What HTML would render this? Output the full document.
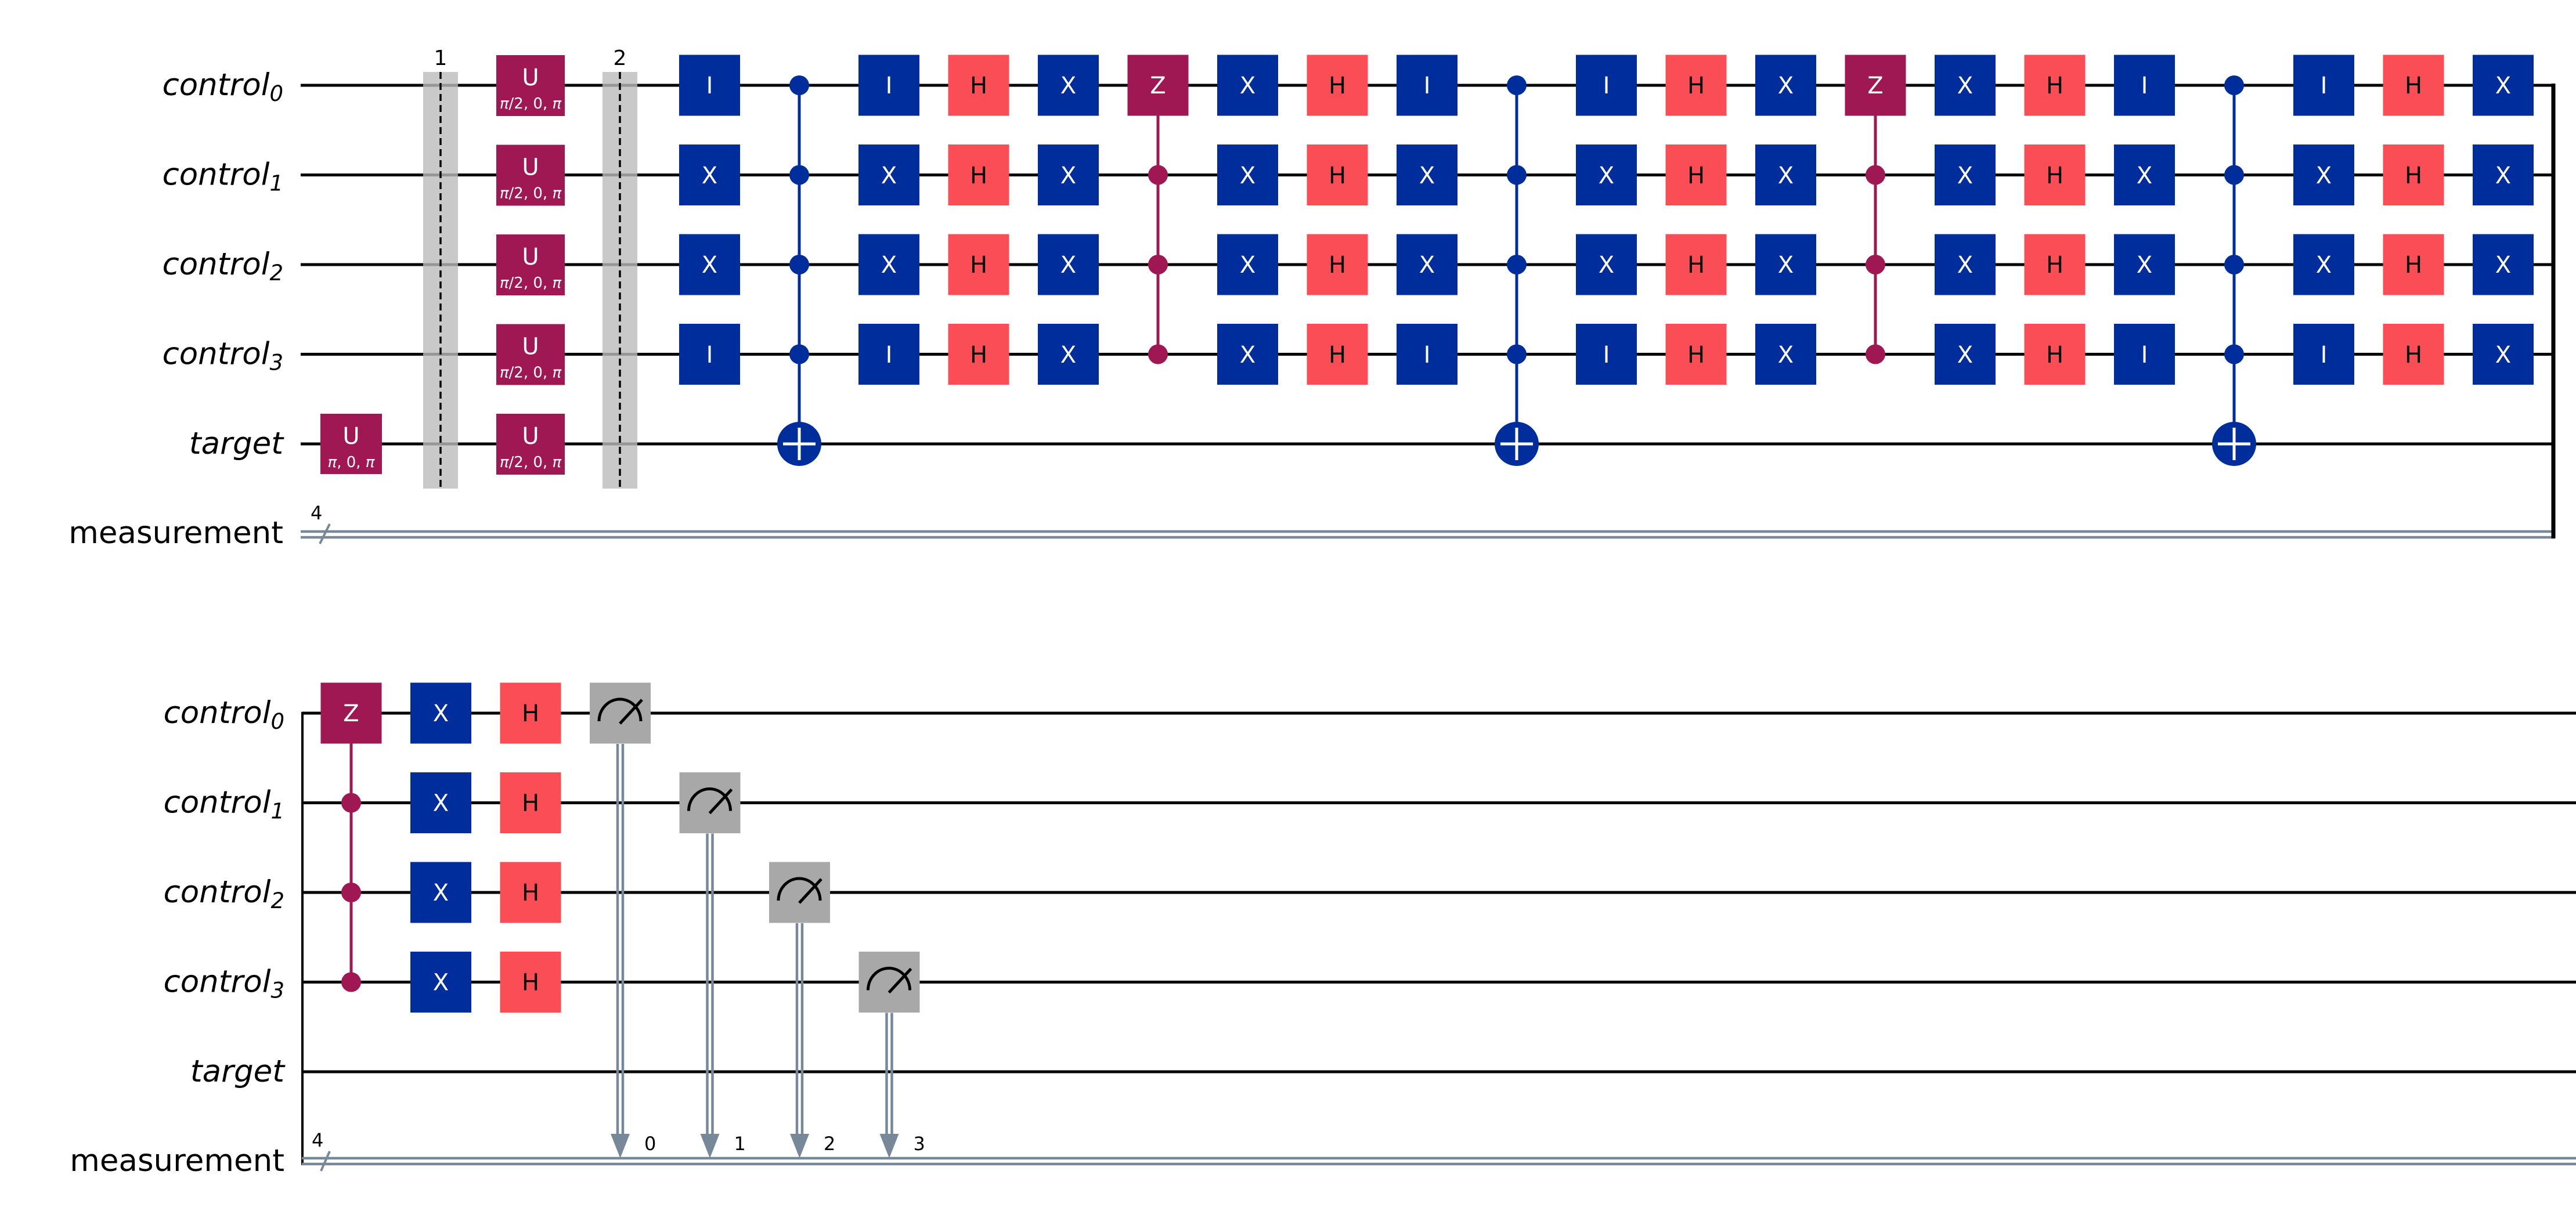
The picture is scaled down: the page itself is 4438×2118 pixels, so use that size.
<!DOCTYPE html>
<html><head><meta charset="utf-8"><style>
html,body{margin:0;padding:0;background:#fff}
svg{display:block}
.lbl{font-family:"DejaVu Sans","Liberation Sans",sans-serif;font-size:53px;font-style:italic;text-anchor:end;fill:#000}
.lbn{font-family:"DejaVu Sans","Liberation Sans",sans-serif;font-size:53px;text-anchor:end;fill:#000}
.g{font-family:"DejaVu Sans","Liberation Sans",sans-serif;font-size:40px;text-anchor:middle;fill:#fff}
.gk{font-family:"DejaVu Sans","Liberation Sans",sans-serif;font-size:40px;text-anchor:middle;fill:#000}
.p{font-family:"DejaVu Sans","Liberation Sans",sans-serif;font-size:26px;text-anchor:middle;fill:#fff}
.sm{font-family:"DejaVu Sans","Liberation Sans",sans-serif;font-size:36px;fill:#000}
.b{fill:#002D9C}.h{fill:#FA4D56}.m{fill:#9F1853}.gr{fill:#A8A8A8}
.w{stroke:#000;stroke-width:5}
.c{stroke:#778899;stroke-width:4.5}
</style></head><body>
<svg width="4438" height="2118" viewBox="0 0 4438 2118" xmlns="http://www.w3.org/2000/svg">
<!-- ===== TOP ===== -->
<g class="w">
<line x1="518" y1="147" x2="4399" y2="147"/>
<line x1="518" y1="301.5" x2="4399" y2="301.5"/>
<line x1="518" y1="456" x2="4399" y2="456"/>
<line x1="518" y1="610.5" x2="4399" y2="610.5"/>
<line x1="518" y1="765" x2="4399" y2="765"/>
</g>
<line class="c" x1="518" y1="916" x2="4399" y2="916"/>
<line class="c" x1="518" y1="926" x2="4399" y2="926"/>
<line x1="4399" y1="144" x2="4399" y2="928" stroke="#000" stroke-width="7"/>
<line x1="551" y1="937" x2="568" y2="903" stroke="#778899" stroke-width="4"/>
<text class="sm" x="535" y="895" style="font-size:32px">4</text>

<text class="lbl" x="488" y="164">control<tspan style="font-size:37px" dy="10">0</tspan></text>
<text class="lbl" x="488" y="318.5">control<tspan style="font-size:37px" dy="10">1</tspan></text>
<text class="lbl" x="488" y="473">control<tspan style="font-size:37px" dy="10">2</tspan></text>
<text class="lbl" x="488" y="627.5">control<tspan style="font-size:37px" dy="10">3</tspan></text>
<text class="lbl" x="488" y="782">target</text>
<text class="lbn" x="488" y="936">measurement</text>

<!-- U target -->
<rect class="m" x="552" y="713" width="106" height="104"/>
<text class="g" x="605" y="765">U</text>
<text class="p" x="605" y="805"><tspan font-style="italic">π</tspan>, 0, <tspan font-style="italic">π</tspan></text>

<!-- barriers -->
<rect x="729" y="124" width="60" height="718" fill="#bbb" opacity="0.8"/>
<line x1="759" y1="124" x2="759" y2="842" stroke="#000" stroke-width="3.5" stroke-dasharray="12,7"/>
<text class="sm" x="759" y="112" text-anchor="middle">1</text>
<rect x="1038" y="124" width="60" height="718" fill="#bbb" opacity="0.8"/>
<line x1="1068" y1="124" x2="1068" y2="842" stroke="#000" stroke-width="3.5" stroke-dasharray="12,7"/>
<text class="sm" x="1068" y="112" text-anchor="middle">2</text>

<!-- U column -->
<g>
<rect class="m" x="855" y="95" width="118" height="105"/><text class="g" x="914" y="147">U</text><text class="p" x="914" y="187"><tspan font-style="italic">π</tspan>/2, 0, <tspan font-style="italic">π</tspan></text>
<rect class="m" x="855" y="249.5" width="118" height="105"/><text class="g" x="914" y="301.5">U</text><text class="p" x="914" y="341.5"><tspan font-style="italic">π</tspan>/2, 0, <tspan font-style="italic">π</tspan></text>
<rect class="m" x="855" y="404" width="118" height="105"/><text class="g" x="914" y="456">U</text><text class="p" x="914" y="496"><tspan font-style="italic">π</tspan>/2, 0, <tspan font-style="italic">π</tspan></text>
<rect class="m" x="855" y="558.5" width="118" height="105"/><text class="g" x="914" y="610.5">U</text><text class="p" x="914" y="650.5"><tspan font-style="italic">π</tspan>/2, 0, <tspan font-style="italic">π</tspan></text>
<rect class="m" x="855" y="713" width="118" height="105"/><text class="g" x="914" y="765">U</text><text class="p" x="914" y="805"><tspan font-style="italic">π</tspan>/2, 0, <tspan font-style="italic">π</tspan></text>
</g>

<!-- IXXI columns: 0,2,8,10,16,18 -->
<g id="ixxi">
<rect class="b" x="1170" y="94.5" width="105" height="105"/><text class="g" x="1222.5" y="161">I</text>
<rect class="b" x="1170" y="249" width="105" height="105"/><text class="g" x="1222.5" y="316">X</text>
<rect class="b" x="1170" y="403.5" width="105" height="105"/><text class="g" x="1222.5" y="470">X</text>
<rect class="b" x="1170" y="558" width="105" height="105"/><text class="g" x="1222.5" y="625">I</text>
</g>
<g transform="translate(309,0)">
<rect class="b" x="1170" y="94.5" width="105" height="105"/><text class="g" x="1222.5" y="161">I</text>
<rect class="b" x="1170" y="249" width="105" height="105"/><text class="g" x="1222.5" y="316">X</text>
<rect class="b" x="1170" y="403.5" width="105" height="105"/><text class="g" x="1222.5" y="470">X</text>
<rect class="b" x="1170" y="558" width="105" height="105"/><text class="g" x="1222.5" y="625">I</text>
</g>
<g transform="translate(1236,0)">
<rect class="b" x="1170" y="94.5" width="105" height="105"/><text class="g" x="1222.5" y="161">I</text>
<rect class="b" x="1170" y="249" width="105" height="105"/><text class="g" x="1222.5" y="316">X</text>
<rect class="b" x="1170" y="403.5" width="105" height="105"/><text class="g" x="1222.5" y="470">X</text>
<rect class="b" x="1170" y="558" width="105" height="105"/><text class="g" x="1222.5" y="625">I</text>
</g>
<g transform="translate(1545,0)">
<rect class="b" x="1170" y="94.5" width="105" height="105"/><text class="g" x="1222.5" y="161">I</text>
<rect class="b" x="1170" y="249" width="105" height="105"/><text class="g" x="1222.5" y="316">X</text>
<rect class="b" x="1170" y="403.5" width="105" height="105"/><text class="g" x="1222.5" y="470">X</text>
<rect class="b" x="1170" y="558" width="105" height="105"/><text class="g" x="1222.5" y="625">I</text>
</g>
<g transform="translate(2472,0)">
<rect class="b" x="1170" y="94.5" width="105" height="105"/><text class="g" x="1222.5" y="161">I</text>
<rect class="b" x="1170" y="249" width="105" height="105"/><text class="g" x="1222.5" y="316">X</text>
<rect class="b" x="1170" y="403.5" width="105" height="105"/><text class="g" x="1222.5" y="470">X</text>
<rect class="b" x="1170" y="558" width="105" height="105"/><text class="g" x="1222.5" y="625">I</text>
</g>
<g transform="translate(2781,0)">
<rect class="b" x="1170" y="94.5" width="105" height="105"/><text class="g" x="1222.5" y="161">I</text>
<rect class="b" x="1170" y="249" width="105" height="105"/><text class="g" x="1222.5" y="316">X</text>
<rect class="b" x="1170" y="403.5" width="105" height="105"/><text class="g" x="1222.5" y="470">X</text>
<rect class="b" x="1170" y="558" width="105" height="105"/><text class="g" x="1222.5" y="625">I</text>
</g>

<!-- H columns: 3,7,11,15,19 (offsets from col0: 463.5, 1081.5, 1699.5, 2317.5, 2935.5) -->
<g transform="translate(463.5,0)">
<rect class="h" x="1170" y="94.5" width="105" height="105"/><text class="gk" x="1222.5" y="161">H</text>
<rect class="h" x="1170" y="249" width="105" height="105"/><text class="gk" x="1222.5" y="316">H</text>
<rect class="h" x="1170" y="403.5" width="105" height="105"/><text class="gk" x="1222.5" y="470">H</text>
<rect class="h" x="1170" y="558" width="105" height="105"/><text class="gk" x="1222.5" y="625">H</text>
</g>
<g transform="translate(1081.5,0)">
<rect class="h" x="1170" y="94.5" width="105" height="105"/><text class="gk" x="1222.5" y="161">H</text>
<rect class="h" x="1170" y="249" width="105" height="105"/><text class="gk" x="1222.5" y="316">H</text>
<rect class="h" x="1170" y="403.5" width="105" height="105"/><text class="gk" x="1222.5" y="470">H</text>
<rect class="h" x="1170" y="558" width="105" height="105"/><text class="gk" x="1222.5" y="625">H</text>
</g>
<g transform="translate(1699.5,0)">
<rect class="h" x="1170" y="94.5" width="105" height="105"/><text class="gk" x="1222.5" y="161">H</text>
<rect class="h" x="1170" y="249" width="105" height="105"/><text class="gk" x="1222.5" y="316">H</text>
<rect class="h" x="1170" y="403.5" width="105" height="105"/><text class="gk" x="1222.5" y="470">H</text>
<rect class="h" x="1170" y="558" width="105" height="105"/><text class="gk" x="1222.5" y="625">H</text>
</g>
<g transform="translate(2317.5,0)">
<rect class="h" x="1170" y="94.5" width="105" height="105"/><text class="gk" x="1222.5" y="161">H</text>
<rect class="h" x="1170" y="249" width="105" height="105"/><text class="gk" x="1222.5" y="316">H</text>
<rect class="h" x="1170" y="403.5" width="105" height="105"/><text class="gk" x="1222.5" y="470">H</text>
<rect class="h" x="1170" y="558" width="105" height="105"/><text class="gk" x="1222.5" y="625">H</text>
</g>
<g transform="translate(2935.5,0)">
<rect class="h" x="1170" y="94.5" width="105" height="105"/><text class="gk" x="1222.5" y="161">H</text>
<rect class="h" x="1170" y="249" width="105" height="105"/><text class="gk" x="1222.5" y="316">H</text>
<rect class="h" x="1170" y="403.5" width="105" height="105"/><text class="gk" x="1222.5" y="470">H</text>
<rect class="h" x="1170" y="558" width="105" height="105"/><text class="gk" x="1222.5" y="625">H</text>
</g>

<!-- X columns: 4,6,12,14,20 (offsets 618, 927, 1854, 2163, 3090) -->
<g transform="translate(618,0)">
<rect class="b" x="1170" y="94.5" width="105" height="105"/><text class="g" x="1222.5" y="161">X</text>
<rect class="b" x="1170" y="249" width="105" height="105"/><text class="g" x="1222.5" y="316">X</text>
<rect class="b" x="1170" y="403.5" width="105" height="105"/><text class="g" x="1222.5" y="470">X</text>
<rect class="b" x="1170" y="558" width="105" height="105"/><text class="g" x="1222.5" y="625">X</text>
</g>
<g transform="translate(927,0)">
<rect class="b" x="1170" y="94.5" width="105" height="105"/><text class="g" x="1222.5" y="161">X</text>
<rect class="b" x="1170" y="249" width="105" height="105"/><text class="g" x="1222.5" y="316">X</text>
<rect class="b" x="1170" y="403.5" width="105" height="105"/><text class="g" x="1222.5" y="470">X</text>
<rect class="b" x="1170" y="558" width="105" height="105"/><text class="g" x="1222.5" y="625">X</text>
</g>
<g transform="translate(1854,0)">
<rect class="b" x="1170" y="94.5" width="105" height="105"/><text class="g" x="1222.5" y="161">X</text>
<rect class="b" x="1170" y="249" width="105" height="105"/><text class="g" x="1222.5" y="316">X</text>
<rect class="b" x="1170" y="403.5" width="105" height="105"/><text class="g" x="1222.5" y="470">X</text>
<rect class="b" x="1170" y="558" width="105" height="105"/><text class="g" x="1222.5" y="625">X</text>
</g>
<g transform="translate(2163,0)">
<rect class="b" x="1170" y="94.5" width="105" height="105"/><text class="g" x="1222.5" y="161">X</text>
<rect class="b" x="1170" y="249" width="105" height="105"/><text class="g" x="1222.5" y="316">X</text>
<rect class="b" x="1170" y="403.5" width="105" height="105"/><text class="g" x="1222.5" y="470">X</text>
<rect class="b" x="1170" y="558" width="105" height="105"/><text class="g" x="1222.5" y="625">X</text>
</g>
<g transform="translate(3090,0)">
<rect class="b" x="1170" y="94.5" width="105" height="105"/><text class="g" x="1222.5" y="161">X</text>
<rect class="b" x="1170" y="249" width="105" height="105"/><text class="g" x="1222.5" y="316">X</text>
<rect class="b" x="1170" y="403.5" width="105" height="105"/><text class="g" x="1222.5" y="470">X</text>
<rect class="b" x="1170" y="558" width="105" height="105"/><text class="g" x="1222.5" y="625">X</text>
</g>

<!-- CNOT columns 1,9,17 (x 1377, 2613, 3849) -->
<g>
<line x1="1377" y1="147" x2="1377" y2="765" stroke="#002D9C" stroke-width="5"/>
<circle cx="1377" cy="147" r="17" fill="#002D9C"/><circle cx="1377" cy="301.5" r="17" fill="#002D9C"/><circle cx="1377" cy="456" r="17" fill="#002D9C"/><circle cx="1377" cy="610.5" r="17" fill="#002D9C"/>
<circle cx="1377" cy="765" r="38" fill="#002D9C"/>
<line x1="1349" y1="765" x2="1405" y2="765" stroke="#fff" stroke-width="5"/><line x1="1377" y1="737" x2="1377" y2="793" stroke="#fff" stroke-width="5"/>
</g>
<g transform="translate(1236,0)">
<line x1="1377" y1="147" x2="1377" y2="765" stroke="#002D9C" stroke-width="5"/>
<circle cx="1377" cy="147" r="17" fill="#002D9C"/><circle cx="1377" cy="301.5" r="17" fill="#002D9C"/><circle cx="1377" cy="456" r="17" fill="#002D9C"/><circle cx="1377" cy="610.5" r="17" fill="#002D9C"/>
<circle cx="1377" cy="765" r="38" fill="#002D9C"/>
<line x1="1349" y1="765" x2="1405" y2="765" stroke="#fff" stroke-width="5"/><line x1="1377" y1="737" x2="1377" y2="793" stroke="#fff" stroke-width="5"/>
</g>
<g transform="translate(2472,0)">
<line x1="1377" y1="147" x2="1377" y2="765" stroke="#002D9C" stroke-width="5"/>
<circle cx="1377" cy="147" r="17" fill="#002D9C"/><circle cx="1377" cy="301.5" r="17" fill="#002D9C"/><circle cx="1377" cy="456" r="17" fill="#002D9C"/><circle cx="1377" cy="610.5" r="17" fill="#002D9C"/>
<circle cx="1377" cy="765" r="38" fill="#002D9C"/>
<line x1="1349" y1="765" x2="1405" y2="765" stroke="#fff" stroke-width="5"/><line x1="1377" y1="737" x2="1377" y2="793" stroke="#fff" stroke-width="5"/>
</g>

<!-- CZ columns 5,13 (x 1995, 3231) -->
<g>
<line x1="1995" y1="147" x2="1995" y2="610.5" stroke="#9F1853" stroke-width="5"/>
<rect class="m" x="1942.5" y="94.5" width="105" height="105"/><text class="g" x="1995" y="161">Z</text>
<circle cx="1995" cy="301.5" r="17" fill="#9F1853"/><circle cx="1995" cy="456" r="17" fill="#9F1853"/><circle cx="1995" cy="610.5" r="17" fill="#9F1853"/>
</g>
<g transform="translate(1236,0)">
<line x1="1995" y1="147" x2="1995" y2="610.5" stroke="#9F1853" stroke-width="5"/>
<rect class="m" x="1942.5" y="94.5" width="105" height="105"/><text class="g" x="1995" y="161">Z</text>
<circle cx="1995" cy="301.5" r="17" fill="#9F1853"/><circle cx="1995" cy="456" r="17" fill="#9F1853"/><circle cx="1995" cy="610.5" r="17" fill="#9F1853"/>
</g>

<!-- ===== BOTTOM ===== -->
<g class="w">
<line x1="520" y1="1229" x2="4438" y2="1229"/>
<line x1="520" y1="1383.5" x2="4438" y2="1383.5"/>
<line x1="520" y1="1538" x2="4438" y2="1538"/>
<line x1="520" y1="1692.5" x2="4438" y2="1692.5"/>
<line x1="520" y1="1847" x2="4438" y2="1847"/>
</g>
<line x1="521" y1="1227" x2="521" y2="2008" stroke="#000" stroke-width="4"/>
<line class="c" x1="520" y1="1996" x2="4438" y2="1996"/>
<line class="c" x1="520" y1="2006" x2="4438" y2="2006"/>
<line x1="553" y1="2018" x2="568" y2="1984" stroke="#778899" stroke-width="4"/>
<text class="sm" x="537" y="1976" style="font-size:32px">4</text>

<text class="lbl" x="490" y="1246">control<tspan style="font-size:37px" dy="10">0</tspan></text>
<text class="lbl" x="490" y="1400.5">control<tspan style="font-size:37px" dy="10">1</tspan></text>
<text class="lbl" x="490" y="1555">control<tspan style="font-size:37px" dy="10">2</tspan></text>
<text class="lbl" x="490" y="1709.5">control<tspan style="font-size:37px" dy="10">3</tspan></text>
<text class="lbl" x="490" y="1864">target</text>
<text class="lbn" x="490" y="2018">measurement</text>

<!-- CZ -->
<line x1="605" y1="1229" x2="605" y2="1692.5" stroke="#9F1853" stroke-width="5"/>
<rect class="m" x="552.5" y="1176.5" width="105" height="105"/><text class="g" x="605" y="1243">Z</text>
<circle cx="605" cy="1383.5" r="17" fill="#9F1853"/><circle cx="605" cy="1538" r="17" fill="#9F1853"/><circle cx="605" cy="1692.5" r="17" fill="#9F1853"/>
<!-- X col -->
<rect class="b" x="707" y="1176.5" width="105" height="105"/><text class="g" x="759.5" y="1243">X</text>
<rect class="b" x="707" y="1331" width="105" height="105"/><text class="g" x="759.5" y="1397.5">X</text>
<rect class="b" x="707" y="1485.5" width="105" height="105"/><text class="g" x="759.5" y="1552">X</text>
<rect class="b" x="707" y="1640" width="105" height="105"/><text class="g" x="759.5" y="1706.5">X</text>
<!-- H col -->
<rect class="h" x="861.5" y="1176.5" width="105" height="105"/><text class="gk" x="914" y="1243">H</text>
<rect class="h" x="861.5" y="1331" width="105" height="105"/><text class="gk" x="914" y="1397.5">H</text>
<rect class="h" x="861.5" y="1485.5" width="105" height="105"/><text class="gk" x="914" y="1552">H</text>
<rect class="h" x="861.5" y="1640" width="105" height="105"/><text class="gk" x="914" y="1706.5">H</text>

<!-- measurements -->
<g>
<line class="c" x1="1064" y1="1282" x2="1064" y2="1960"/><line class="c" x1="1073" y1="1282" x2="1073" y2="1960"/>
<polygon points="1052,1954 1085,1954 1068.5,1996" fill="#778899"/>
<rect class="gr" x="1016" y="1176.5" width="105" height="105"/>
<path d="M1032,1243 A36,38 0 0 1 1104,1243" fill="none" stroke="#000" stroke-width="5"/>
<line x1="1068" y1="1247" x2="1106" y2="1206" stroke="#000" stroke-width="5"/>
<text class="sm" x="1110" y="1982" style="font-size:32px">0</text>
</g>
<g transform="translate(154.5,154.5)">
<line class="c" x1="1064" y1="1282" x2="1064" y2="1805"/><line class="c" x1="1073" y1="1282" x2="1073" y2="1805"/>
<polygon points="1052,1799.5 1085,1799.5 1068.5,1841.5" fill="#778899"/>
<rect class="gr" x="1016" y="1176.5" width="105" height="105"/>
<path d="M1032,1243 A36,38 0 0 1 1104,1243" fill="none" stroke="#000" stroke-width="5"/>
<line x1="1068" y1="1247" x2="1106" y2="1206" stroke="#000" stroke-width="5"/>
<text class="sm" x="1110" y="1827.5" style="font-size:32px">1</text>
</g>
<g transform="translate(309,309)">
<line class="c" x1="1064" y1="1282" x2="1064" y2="1651"/><line class="c" x1="1073" y1="1282" x2="1073" y2="1651"/>
<polygon points="1052,1645 1085,1645 1068.5,1687" fill="#778899"/>
<rect class="gr" x="1016" y="1176.5" width="105" height="105"/>
<path d="M1032,1243 A36,38 0 0 1 1104,1243" fill="none" stroke="#000" stroke-width="5"/>
<line x1="1068" y1="1247" x2="1106" y2="1206" stroke="#000" stroke-width="5"/>
<text class="sm" x="1110" y="1673" style="font-size:32px">2</text>
</g>
<g transform="translate(463.5,463.5)">
<line class="c" x1="1064" y1="1282" x2="1064" y2="1496"/><line class="c" x1="1073" y1="1282" x2="1073" y2="1496"/>
<polygon points="1052,1490.5 1085,1490.5 1068.5,1532.5" fill="#778899"/>
<rect class="gr" x="1016" y="1176.5" width="105" height="105"/>
<path d="M1032,1243 A36,38 0 0 1 1104,1243" fill="none" stroke="#000" stroke-width="5"/>
<line x1="1068" y1="1247" x2="1106" y2="1206" stroke="#000" stroke-width="5"/>
<text class="sm" x="1110" y="1518.5" style="font-size:32px">3</text>
</g>
</svg>
</body></html>
